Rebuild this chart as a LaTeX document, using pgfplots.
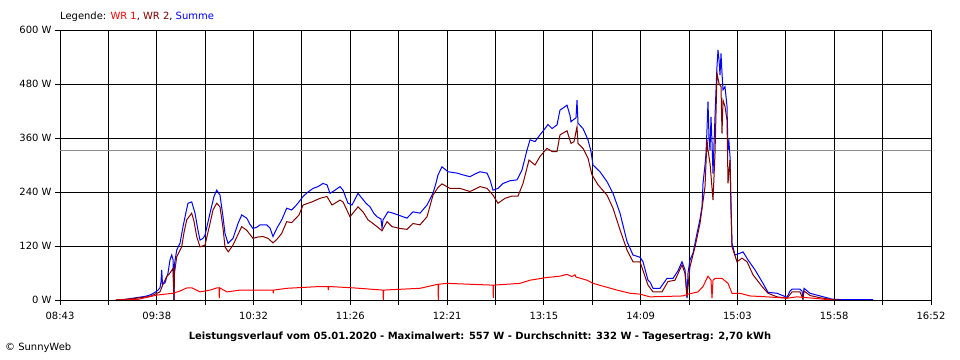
\documentclass[border=0pt]{standalone}
\usepackage{pgfplots}
\pgfplotsset{compat=1.18}
\usepackage{fontspec}
\setmainfont{DejaVu Sans}
\definecolor{wrzwei}{RGB}{128,0,0}
\begin{document}
\begin{tikzpicture}
\useasboundingbox (0,0) rectangle (960bp,360bp);
\begin{axis}[
  at={(60bp,60bp)}, anchor=south west,
  width=871bp, height=270bp, scale only axis,
  xmin=60, xmax=931, ymin=0, ymax=600,
  axis line style={black, line width=1bp},
  tick align=outside,
  major tick length=5bp, minor tick length=5bp,
  every tick/.style={black, line width=1bp},
  ytick={0,120,240,360,480,600},
  yticklabels={0 W,120 W,240 W,360 W,480 W,600 W},
  xtick={60,156.78,253.56,350.33,447.11,543.89,640.67,737.44,834.22,931},
  xticklabels={08:43,09:38,10:32,11:26,12:21,13:15,14:09,15:03,15:58,16:52},
  minor xtick={108.39,205.17,301.94,398.72,495.5,592.28,689.06,785.83,882.61},
  xmajorgrids, ymajorgrids, xminorgrids,
  grid style={black, line width=1bp},
  minor grid style={black, line width=1bp},
  ticklabel style={font=\fontsize{10}{12}\selectfont},
  xticklabel style={yshift=-4bp},
  xtick pos=bottom, ytick pos=left,
  clip=true,
]
\addplot[gray!90, line width=1bp] coordinates {(60,332) (931,332)};
\addplot[blue, line width=1bp, no marks] coordinates {
(116,0)(125,1)(133,4)(145,8)(150,11)(155,17)(158,22)(160,27)(161,40)(161.7,67)(162.5,35)(165,38)(168,60)(170,89)(171.7,100)(173,90)(173.5,40)(174,0)(174.5,80)(176.7,111)(180,126)(183,163)(186,195)(188,215)(191.7,218)(195,193)(198,155)(200,133)(203,137)(205,144)(210,193)(214,230)(216.7,244)(220,233)(223,185)(225,148)(228,126)(233,137)(238,170)(241.7,189)(246.7,182)(250,168)(253,159)(257,162)(260,167)(266.7,167)(270,160)(273,141)(277,160)(281.7,178)(286.7,204)(291.7,200)(296,210)(299,218)(303,230)(308,240)(313,248)(318,252)(323,259)(327,256)(330,237)(335,244)(340,252)(343,244)(348,215)(352,211)(358,237)(362,226)(366,215)(370,207)(374,192)(377,185)(381,180)(382,160)(383,178)(388,196)(393,193)(398,189)(403,185)(407,182)(413,196)(420,193)(427,211)(433,237)(436,260)(438,278)(442,296)(448,285)(457,282)(463,278)(470,274)(475,280)(480,285)(487,282)(490,267)(493,244)(498,248)(503,259)(510,265)(517,267)(522,289)(527,333)(530,356)(535,352)(540,367)(545,381)(548,390)(552,381)(557,389)(560,422)(564,428)(567,433)(570,410)(571,396)(573,400)(576,405)(577,444)(578,393)(583,381)(588,356)(591,330)(593,300)(600,285)(607,263)(613,237)(620,193)(627,130)(633,100)(640,95)(643,85)(648,44)(650,40)(653,26)(660,26)(667,48)(673,48)(678,65)(682,85)(685,67)(686,40)(687,4)(688,60)(690,89)(693,104)(697,148)(700,180)(702,207)(703,259)(705,300)(706,326)(707,380)(708,441)(709,360)(710,333)(711,407)(712,350)(713,281)(714,348)(716,467)(717,520)(718,556)(719,533)(720,500)(721,548)(722,504)(723,467)(725,474)(727,430)(728,333)(729,350)(730,319)(731,200)(732,126)(735,100)(740,104)(743,107)(748,89)(755,67)(763,37)(768,17)(777,15)(787,6)(790,20)(792,24)(800,24)(802,20)(803,4)(804,26)(810,15)(820,9)(832,2)(840,1)(873,1)
};
\addplot[wrzwei, line width=1bp, no marks] coordinates {
(116,0)(133,3)(150,8)(160,18)(163,35)(166.7,52)(170,60)(173,70)(173.5,30)(174,0)(174.5,60)(176.7,96)(181.7,118)(184,150)(186.7,178)(191.7,193)(194,175)(196.7,141)(200,118)(205,122)(210,170)(213,200)(216.7,215)(220,207)(223,160)(225,118)(228.3,107)(233,122)(241.7,163)(246.7,155)(253,137)(258,140)(263,141)(268,137)(273,127)(277,135)(281.7,148)(286.7,174)(291.7,172)(299,189)(303,211)(312,218)(320,226)(327,230)(332,211)(340,222)(343,218)(350,185)(358,207)(363,196)(368,178)(373,170)(377,163)(382,154)(387,174)(392,163)(400,159)(407,157)(413,170)(420,167)(427,185)(433,233)(438,250)(442,258)(450,248)(460,248)(470,241)(480,252)(487,248)(493,233)(498,215)(505,226)(512,231)(518,231)(523,259)(529,311)(535,300)(540,319)(547,337)(552,330)(557,330)(560,367)(567,376)(571,348)(574,352)(577,385)(578,348)(583,337)(588,315)(592,278)(598,256)(607,233)(613,204)(620,156)(627,111)(633,85)(640,85)(648,33)(653,18)(662,18)(668,41)(675,44)(682,78)(685,59)(687,7)(690,74)(695,118)(700,170)(705,252)(707,356)(708,333)(710,304)(713,222)(715,326)(717,504)(719,481)(721,474)(722,370)(723,444)(725,430)(727,400)(728,259)(730,311)(732,118)(737,85)(742,93)(747,85)(753,56)(762,30)(768,15)(777,7)(787,4)(792,18)(800,18)(803,2)(804,20)(810,10)(820,5)(832,1)(840,0)
};
\addplot[red, line width=1bp, no marks] coordinates {
(116,0)(137,1)(157,11)(173,15)(180,20)(187,27)(192,27)(200,18)(210,22)(217,27)(219,27)(219.3,4)(219.6,27)(227,18)(240,22)(273,22)(273.3,15)(273.6,22)(287,26)(320,30)(328,30)(328.3,22)(328.6,30)(353,27)(383,22)(383.3,0)(383.6,22)(420,26)(438,35)(438.3,0)(438.6,35)(447,37)(493,33)(493.3,5)(493.6,33)(520,37)(530,44)(547,50)(560,53)(567,57)(572,52)(575,56)(576,51)(587,44)(593,37)(617,22)(630,15)(640,13)(650,7)(683,9)(688,13)(698,18)(703,30)(708,53)(711,44)(712,4)(713,44)(715,48)(722,48)(728,37)(732,15)(740,15)(750,9)(767,7)(787,4)(797,7)(813,4)(832,0)
};
\end{axis}
\node[anchor=west, inner sep=0pt, font=\fontsize{10}{12}\selectfont] at (60bp,343bp) {Legende: \textcolor{red}{WR 1}, \textcolor{wrzwei}{WR 2}, \textcolor{blue}{Summe}};
\node[inner sep=0pt, font=\fontsize{10}{12}\selectfont\bfseries] at (480bp,23bp) {Leistungsverlauf vom 05.01.2020 - Maximalwert: 557 W - Durchschnitt: 332 W - Tagesertrag: 2,70 kWh};
\node[anchor=west, inner sep=0pt, font=\fontsize{10}{12}\selectfont] at (5bp,12bp) {© SunnyWeb};
\end{tikzpicture}
\end{document}
